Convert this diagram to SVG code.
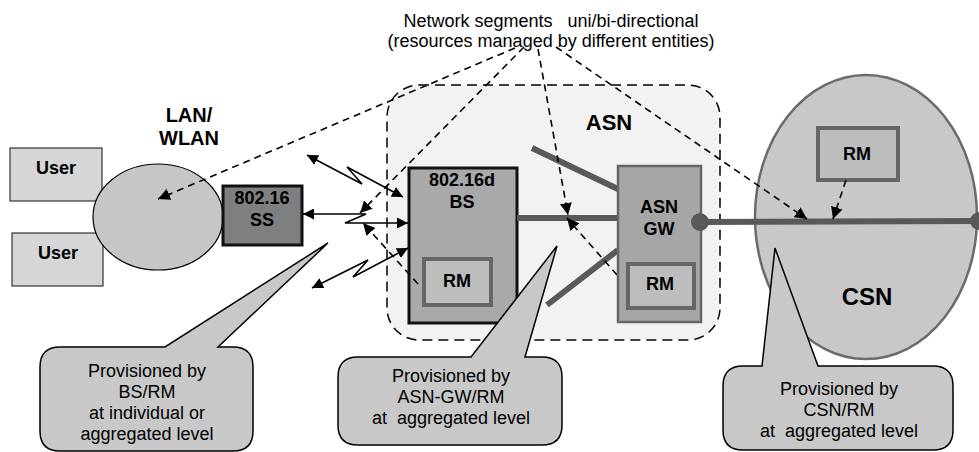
<svg xmlns="http://www.w3.org/2000/svg" width="979" height="452" viewBox="0 0 979 452">
<defs>
<marker id="ah" viewBox="0 0 10 10" refX="10" refY="5" markerWidth="11" markerHeight="11" markerUnits="userSpaceOnUse" orient="auto-start-reverse">
<path d="M0,0 L10,5 L0,10 Z" fill="#000"/>
</marker>
<marker id="ahd" viewBox="0 0 10 10" refX="10" refY="5" markerWidth="12" markerHeight="12" markerUnits="userSpaceOnUse" orient="auto">
<path d="M0,0 L10,5 L0,10 Z" fill="#000"/>
</marker>
</defs>
<style>
text{font-family:"Liberation Sans",Arial,sans-serif;text-anchor:middle;fill:#000;white-space:pre}
.b{font-weight:bold;font-size:18px}
.n{font-size:18px}
.user{fill:#d6d6d6;stroke:#333;stroke-width:1.2}
.rm{fill:#bdbdbd;stroke:#666;stroke-width:4}
.dash{fill:none;stroke:#000;stroke-width:1.6;stroke-dasharray:7,5;marker-end:url(#ahd)}
.bolt{fill:none;stroke:#000;stroke-width:1.6;marker-start:url(#ah);marker-end:url(#ah)}
.thick{stroke:#595959;stroke-width:6;fill:none}
.callout{fill:#c8c8c8;stroke:#000;stroke-width:1.5}
</style>
<rect width="979" height="452" fill="#fff"/>

<g id="asn">
<rect x="387" y="85" width="333" height="255" rx="32" fill="#f2f2f2" stroke="#000" stroke-width="1.5" stroke-dasharray="10,6"/>
<text x="609" y="130" class="b" style="font-size:22px">ASN</text>
</g>

<g id="csn">
<ellipse cx="866" cy="217" rx="111" ry="142" fill="#c8c8c8" stroke="#6b6b6b" stroke-width="2.5"/>
<text x="867" y="305" class="b" style="font-size:24px">CSN</text>
</g>

<g id="csn-rm">
<rect x="818" y="128" width="80" height="52" class="rm"/>
<text x="857" y="160" class="b">RM</text>
</g>

<g id="user1">
<rect x="10" y="148" width="92" height="53" class="user"/>
<text x="56" y="174" class="b">User</text>
</g>
<g id="user2">
<rect x="12" y="233" width="91" height="53" class="user"/>
<text x="58" y="259" class="b">User</text>
</g>

<g id="lan">
<ellipse cx="158" cy="217" rx="65" ry="53" fill="#c6c6c6" stroke="#000" stroke-width="1.2"/>
<text x="189" y="122" class="b" style="font-size:20px">LAN/</text>
<text x="189" y="145" class="b" style="font-size:20px">WLAN</text>
</g>

<g id="ss">
<rect x="223" y="186" width="79" height="59" fill="#7f7f7f" stroke="#111" stroke-width="3"/>
<text x="262" y="204" class="b">802.16</text>
<text x="262" y="226" class="b">SS</text>
</g>

<g id="bs">
<rect x="409" y="168" width="108" height="155" fill="#a9a9a9" stroke="#111" stroke-width="3"/>
<text x="462" y="186" class="b">802.16d</text>
<text x="462" y="208" class="b">BS</text>
</g>
<g id="bs-rm">
<rect x="424" y="259" width="67" height="46" class="rm"/>
<text x="457" y="287" class="b">RM</text>
</g>

<g id="connectors">
<line x1="517" y1="218" x2="618" y2="218" class="thick"/>
<line x1="532" y1="148" x2="620" y2="190" class="thick"/>
<line x1="547" y1="305" x2="618" y2="250" class="thick"/>
<line x1="700" y1="222" x2="979" y2="221" class="thick"/>
<circle cx="979" cy="221" r="9" fill="#595959"/>

<polyline points="307,155 362,184 347,167 403,197" class="bolt"/>
<polyline points="303,214 366,214 345,223 408,223" class="bolt"/>
<polyline points="312,288 368,260 353,277 408,248" class="bolt"/>

<line x1="515" y1="48" x2="158" y2="199" class="dash"/>
<line x1="524" y1="47" x2="360" y2="213" class="dash"/>
<line x1="538" y1="49" x2="568" y2="215" class="dash"/>
<line x1="556" y1="47" x2="807" y2="219" class="dash"/>
<line x1="418" y1="284" x2="363" y2="223" class="dash"/>
<line x1="625" y1="284" x2="567" y2="218" class="dash"/>
<line x1="846" y1="180" x2="833" y2="219" class="dash"/>
</g>

<g id="asn-gw">
<rect x="618" y="166" width="83" height="156" fill="#a6a6a6" stroke="#666" stroke-width="2.5"/>
<text x="659" y="213" class="b">ASN</text>
<text x="659" y="235" class="b">GW</text>
<circle cx="700" cy="222" r="9" fill="#595959"/>
</g>
<g id="gw-rm">
<rect x="628" y="264" width="66" height="44" class="rm"/>
<text x="660" y="290" class="b">RM</text>
</g>

<g id="title">
<text x="551" y="27" class="n">Network segments   uni/bi-directional</text>
<text x="551" y="47" class="n">(resources managed by different entities)</text>
</g>

<g id="callout-bs">
<path d="M60,347 L165,347 L328,243 L218,347 L233,347 Q253,347 253,367 L253,431 Q253,451 233,451 L60,451 Q40,451 40,431 L40,367 Q40,347 60,347 Z" class="callout"/>
<text x="147" y="377" class="n">Provisioned by</text>
<text x="147" y="398" class="n">BS/RM</text>
<text x="147" y="419" class="n">at individual or</text>
<text x="147" y="440" class="n">aggregated level</text>
</g>

<g id="callout-asn">
<path d="M358,357 L471,357 L557,246 L525,357 L542,357 Q562,357 562,377 L562,425 Q562,445 542,445 L358,445 Q338,445 338,425 L338,377 Q338,357 358,357 Z" class="callout"/>
<text x="451" y="382" class="n">Provisioned by</text>
<text x="451" y="403" class="n">ASN-GW/RM</text>
<text x="451" y="424" class="n">at  aggregated level</text>
</g>

<g id="callout-csn">
<path d="M743,366 L762,366 L775,248 L818,366 L933,366 Q953,366 953,386 L953,430 Q953,450 933,450 L743,450 Q723,450 723,430 L723,386 Q723,366 743,366 Z" class="callout"/>
<text x="839" y="395" class="n">Provisioned by</text>
<text x="839" y="416" class="n">CSN/RM</text>
<text x="839" y="437" class="n">at  aggregated level</text>
</g>
</svg>
